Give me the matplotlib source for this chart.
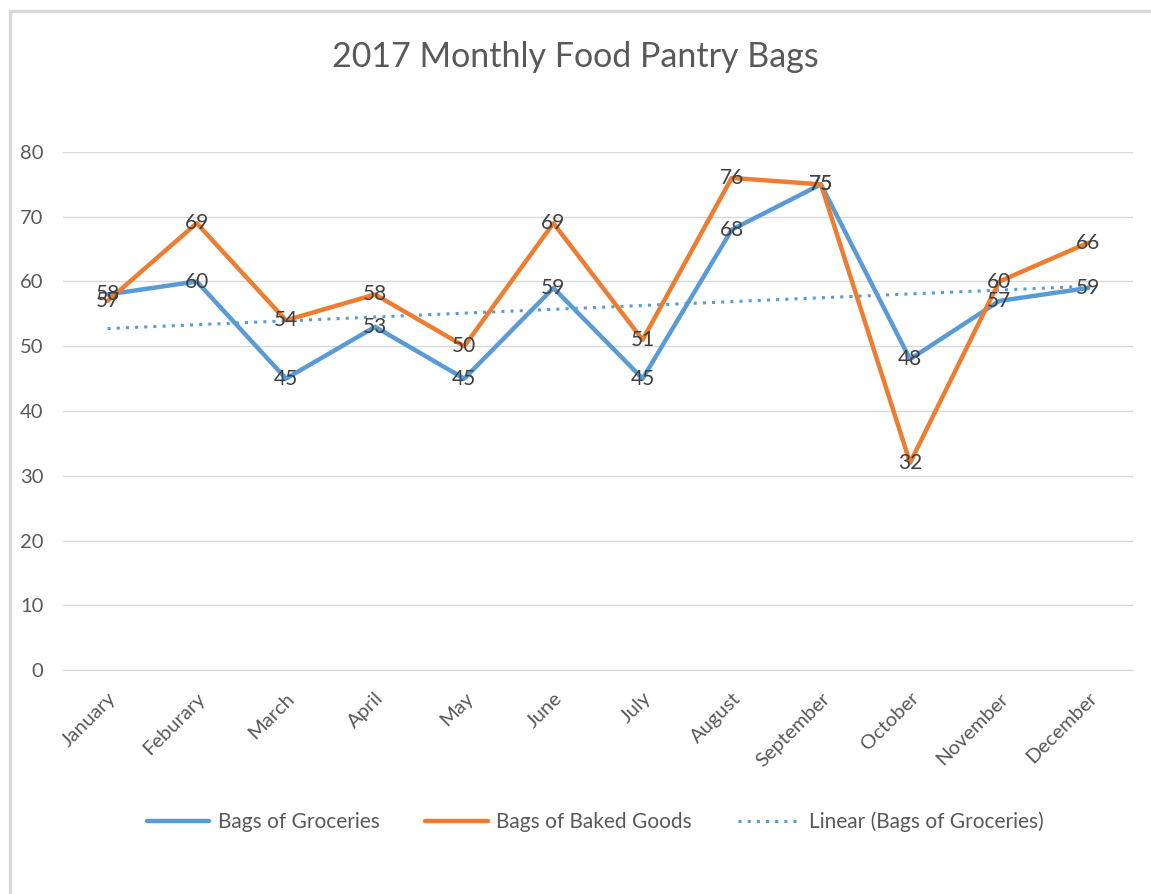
import numpy as np
import matplotlib.pyplot as plt
from matplotlib.patches import Rectangle

months = ['January', 'Feburary', 'March', 'April', 'May', 'June', 'July',
          'August', 'September', 'October', 'November', 'December']
groceries = [58, 60, 45, 53, 45, 59, 45, 68, 75, 48, 57, 59]
baked = [57, 69, 54, 58, 50, 69, 51, 76, 75, 32, 60, 66]
yticks = [0, 10, 20, 30, 40, 50, 60, 70, 80]

plt.rcParams['font.family'] = ['Lato', 'DejaVu Sans']
blue = '#5B9BD5'
orange = '#ED7D31'
txt = '#595959'

fig = plt.figure(figsize=(11.51, 8.94), dpi=100)
# outer chart border (light gray)
fig.patches.append(Rectangle((10 / 1151, -0.1), 1.2, (894 - 11) / 894 + 0.1,
                             transform=fig.transFigure, fill=False,
                             edgecolor='#D9D9D9', linewidth=2.5))

ax = fig.add_axes([63 / 1151, 224 / 894, (1133 - 63) / 1151, (670 - 152) / 894])
x = np.arange(len(months))

# linear trendline for groceries
m, b = np.polyfit(x, groceries, 1)
ax.plot(x, m * x + b, color=blue, linestyle=(0, (1, 2)), linewidth=2.2,
        label='Linear (Bags of Groceries)', zorder=2)
ax.plot(x, groceries, color=blue, linewidth=3.2, label='Bags of Groceries',
        solid_capstyle='round', zorder=3)
ax.plot(x, baked, color=orange, linewidth=3.2, label='Bags of Baked Goods',
        solid_capstyle='round', zorder=3)

for xi, v in zip(x, groceries):
    ax.text(xi, v, str(v), ha='center', va='center', fontsize=15, color='#404040', zorder=5)
for xi, v in zip(x, baked):
    ax.text(xi, v, str(v), ha='center', va='center', fontsize=15, color='#404040', zorder=5)

ax.set_xlim(-0.5, 11.5)
ax.set_ylim(0, 80)
ax.set_yticks(yticks)
ax.grid(axis='y', color='#D9D9D9', linewidth=1)
ax.set_axisbelow(True)
for s in ['top', 'right', 'left']:
    ax.spines[s].set_visible(False)
ax.spines['bottom'].set_color('#D9D9D9')
ax.tick_params(axis='both', length=0, colors=txt, labelsize=14.5)
ax.tick_params(axis='y', pad=14)
ax.set_xticks(x)
ax.set_xticklabels(months, rotation=45, ha='right', rotation_mode='anchor')
ax.tick_params(axis='x', pad=14)

fig.text(0.5, 1 - 57 / 894, '2017 Monthly Food Pantry Bags', ha='center', va='center',
         fontsize=24.5, color=txt)

handles, labels = ax.get_legend_handles_labels()
order = [1, 2, 0]
ax.legend([handles[i] for i in order], [labels[i] for i in order],
          loc='center', bbox_to_anchor=(595 / 1151, 1 - 822 / 894),
          bbox_transform=fig.transFigure, ncol=3, frameon=False,
          fontsize=15, labelcolor=txt, handlelength=3.0, columnspacing=2.2,
          handletextpad=0.4)

fig.savefig('out.png', dpi=100)
